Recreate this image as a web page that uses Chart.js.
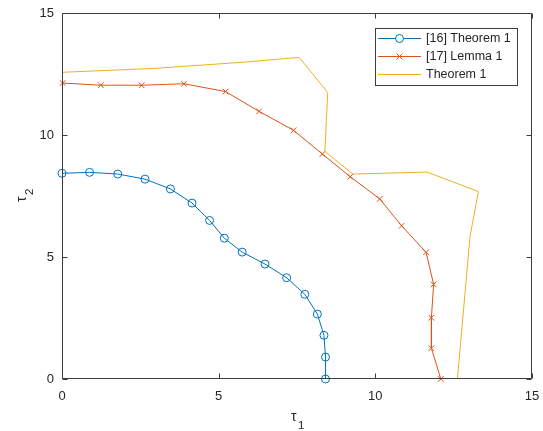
<!DOCTYPE html>
<html>
<head>
<meta charset="utf-8">
<script src="https://cdn.jsdelivr.net/npm/chart.js@4.4.1/dist/chart.umd.min.js"></script>
<style>
    html, body { margin: 0; padding: 0; background: #fff; }
    canvas { display: block; }
</style>
</head>
<body>
<canvas id="regionChart" width="543" height="431"></canvas>
<script>
const tickValues = [0, 5, 10, 15];

const tau1Ref16 = [0, 0.88, 1.78, 2.65, 3.46, 4.15, 4.71, 5.18, 5.75, 6.48, 7.17, 7.75, 8.15, 8.36, 8.41, 8.41];
const tau2Ref16 = [8.43, 8.47, 8.40, 8.19, 7.79, 7.21, 6.50, 5.77, 5.20, 4.71, 4.15, 3.47, 2.66, 1.79, 0.90, 0];

const tau1Ref17 = [0.02, 1.24, 2.54, 3.89, 5.22, 6.29, 7.39, 8.31, 9.20, 10.14, 10.84, 11.62, 11.86, 11.79, 11.79, 12.09];
const tau2Ref17 = [12.13, 12.04, 12.04, 12.10, 11.78, 10.97, 10.19, 9.22, 8.29, 7.38, 6.28, 5.19, 3.88, 2.51, 1.26, 0];

const tau1Thm = [0, 2.97, 5.74, 7.57, 8.48, 8.39, 9.28, 11.65, 13.29, 13.02, 12.62];
const tau2Thm = [12.57, 12.73, 12.98, 13.18, 11.74, 9.33, 8.40, 8.48, 7.68, 5.83, 0];

const seriesLabels = ["[16] Theorem 1", "[17] Lemma 1", "Theorem 1"];

const AXIS_COLOR = "#3c3c3c";
const TEXT_COLOR = "#262626";
const FONT_FAMILY = "'Liberation Sans', Arial, Helvetica, sans-serif";

function toPoints(xs, ys) {
    return xs.map((x, i) => ({ x, y: ys[i] }));
}

// box around the axes with inward ticks, like matlab
const axesBoxPlugin = {
    id: "axesBox",
    afterDatasetsDraw(chart) {
        const { ctx, chartArea: a, scales } = chart;
        const L = Math.round(a.left) + 0.5;
        const R = Math.round(a.right) - 0.5;
        const T = Math.round(a.top) + 0.5;
        const B = Math.round(a.bottom) - 0.5;
        const len = 5;
        ctx.save();
        ctx.strokeStyle = AXIS_COLOR;
        ctx.lineWidth = 1;
        ctx.beginPath();
        ctx.rect(L, T, R - L, B - T);
        tickValues.forEach((v) => {
            const px = Math.round(scales.x.getPixelForValue(v)) + 0.5;
            ctx.moveTo(px, B); ctx.lineTo(px, B - len);
            ctx.moveTo(px, T); ctx.lineTo(px, T + len);
            const py = Math.round(scales.y.getPixelForValue(v)) + 0.5;
            ctx.moveTo(L, py); ctx.lineTo(L + len, py);
            ctx.moveTo(R, py); ctx.lineTo(R - len, py);
        });
        ctx.stroke();
        ctx.restore();
    },
};

// axis titles with subscripts
const axisTitlePlugin = {
    id: "axisTitles",
    afterDraw(chart) {
        const { ctx, chartArea: a } = chart;
        ctx.save();
        ctx.fillStyle = TEXT_COLOR;
        ctx.textBaseline = "alphabetic";
        ctx.textAlign = "left";

        const cx = (a.left + a.right) / 2;
        ctx.font = `14px ${FONT_FAMILY}`;
        ctx.fillText("τ", cx - 6, 421);
        ctx.font = `11.5px ${FONT_FAMILY}`;
        ctx.fillText("1", cx + 1, 429);

        const cy = (a.top + a.bottom) / 2;
        ctx.translate(26, cy + 6);
        ctx.rotate(-Math.PI / 2);
        ctx.font = `14px ${FONT_FAMILY}`;
        ctx.fillText("τ", 0, 0);
        ctx.font = `11.5px ${FONT_FAMILY}`;
        ctx.fillText("2", 7, 7);
        ctx.restore();
    },
};

// legend box in the upper right corner
const legendBoxPlugin = {
    id: "legendBox",
    afterDraw(chart) {
        const { ctx } = chart;
        const box = { x: 375.5, y: 28.5, w: 142, h: 57 };
        const rows = [38.5, 56.5, 74.5];
        ctx.save();
        ctx.fillStyle = "#fff";
        ctx.fillRect(box.x, box.y, box.w, box.h);
        ctx.strokeStyle = AXIS_COLOR;
        ctx.lineWidth = 1;
        ctx.strokeRect(box.x, box.y, box.w, box.h);

        chart.data.datasets.forEach((ds, i) => {
            const y = rows[i];
            ctx.strokeStyle = ds.borderColor;
            ctx.lineWidth = 1;
            ctx.beginPath();
            ctx.moveTo(378, y);
            ctx.lineTo(421, y);
            ctx.stroke();
            if (ds.pointStyle && ds.pointRadius > 0) {
                Chart.helpers.drawPoint(ctx, {
                    pointStyle: ds.pointStyle,
                    radius: ds.pointRadius,
                    borderWidth: 1,
                    rotation: 0,
                }, 399.5, y);
            }
            ctx.fillStyle = TEXT_COLOR;
            ctx.font = `12.5px ${FONT_FAMILY}`;
            ctx.textBaseline = "middle";
            ctx.fillText(ds.label, 426, y + 0.5);
        });
        ctx.restore();
    },
};

function buildChart() {
    const canvas = document.getElementById("regionChart");
    if (!canvas || typeof Chart === "undefined") return;

    const lineStyle = (color) => ({
        borderColor: color,
        backgroundColor: "rgba(0,0,0,0)",
        borderWidth: 1,
        showLine: true,
        tension: 0,
        clip: false,
    });

    new Chart(canvas, {
        type: "scatter",
        data: {
            datasets: [
                {
                    ...lineStyle("#0072BD"),
                    label: seriesLabels[0],
                    data: toPoints(tau1Ref16, tau2Ref16),
                    pointStyle: "circle",
                    pointRadius: 4,
                    pointBorderWidth: 1,
                    pointBackgroundColor: "rgba(0,0,0,0)",
                    pointBorderColor: "#0072BD",
                },
                {
                    ...lineStyle("#D95319"),
                    label: seriesLabels[1],
                    data: toPoints(tau1Ref17, tau2Ref17),
                    pointStyle: "crossRot",
                    pointRadius: 4,
                    pointBorderWidth: 1,
                    pointBorderColor: "#D95319",
                },
                {
                    ...lineStyle("#EDB120"),
                    label: seriesLabels[2],
                    data: toPoints(tau1Thm, tau2Thm),
                    pointRadius: 0,
                    pointStyle: false,
                },
            ],
        },
        options: {
            responsive: false,
            devicePixelRatio: 1,
            animation: false,
            layout: { padding: { top: 13, right: 11, left: 0, bottom: 0 } },
            plugins: {
                legend: { display: false },
                tooltip: { enabled: false },
            },
            scales: {
                x: {
                    type: "linear",
                    min: 0,
                    max: 15,
                    afterBuildTicks: (scale) => { scale.ticks = tickValues.map((v) => ({ value: v })); },
                    afterFit: (scale) => {
                        scale.height = 52;
                        scale.paddingLeft = 0;
                        scale.paddingRight = 0;
                    },
                    grid: { display: false, drawTicks: false },
                    border: { display: false },
                    ticks: {
                        color: TEXT_COLOR,
                        font: { family: FONT_FAMILY, size: 13 },
                        padding: 10,
                        maxRotation: 0,
                    },
                },
                y: {
                    type: "linear",
                    min: 0,
                    max: 15,
                    afterBuildTicks: (scale) => { scale.ticks = tickValues.map((v) => ({ value: v })); },
                    afterFit: (scale) => {
                        scale.width = 62;
                        scale.paddingTop = 0;
                        scale.paddingBottom = 0;
                    },
                    grid: { display: false, drawTicks: false },
                    border: { display: false },
                    ticks: {
                        color: TEXT_COLOR,
                        font: { family: FONT_FAMILY, size: 13 },
                        padding: 8,
                    },
                },
            },
        },
        plugins: [axesBoxPlugin, axisTitlePlugin, legendBoxPlugin],
    });
}

buildChart();
</script>
</body>
</html>
